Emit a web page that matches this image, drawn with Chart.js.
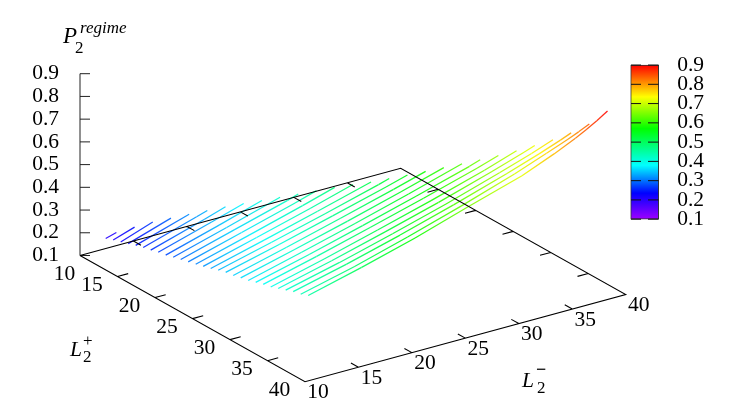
<!DOCTYPE html>
<html>
<head>
<meta charset="utf-8">
<style>
  html, body { margin: 0; padding: 0; background: #fff; }
  canvas { display: block; }
</style>
<script src="https://cdn.jsdelivr.net/npm/chart.js@4/dist/chart.umd.min.js"></script>
</head>
<body>
<canvas id="surface" width="733" height="405"></canvas>
<script>
// tick labels
const lTicks = [10, 15, 20, 25, 30, 35, 40];
const zTicks = [0.1, 0.2, 0.3, 0.4, 0.5, 0.6, 0.7, 0.8, 0.9];

// palette: P value and hue at that value
const paletteP = [0.1, 0.235, 0.38, 0.57, 0.735, 0.9];
const paletteHue = [277, 240, 180, 120, 60, 0];

// one line of the surface per L+, sampled at these L- and at L- = L+
const lPlusRows = [12, 13, 14, 15, 16, 17, 18, 19, 20, 21, 22, 23, 24, 25, 26, 27, 28, 29, 30, 31, 32, 33, 34, 35, 36, 37, 38, 39];
const lMinusGrid = [11, 16, 21, 26, 31, 34, 36, 37, 38];

const pL12 = [.199, .213];
const pL13 = [.211, .242];
const pL14 = [.221, .270];
const pL15 = [.232, .293];
const pL16 = [.243, .316];
const pL17 = [.252, .323, .338];
const pL18 = [.259, .330, .360];
const pL19 = [.268, .337, .380];
const pL20 = [.274, .342, .399];
const pL21 = [.283, .350, .419];
const pL22 = [.292, .358, .424, .439];
const pL23 = [.300, .365, .431, .460];
const pL24 = [.308, .372, .438, .480];
const pL25 = [.317, .380, .444, .498];
const pL26 = [.326, .387, .450, .515];
const pL27 = [.337, .396, .458, .522, .536];
const pL28 = [.346, .405, .467, .530, .557];
const pL29 = [.351, .411, .474, .538, .579];
const pL30 = [.359, .419, .481, .546, .601];
const pL31 = [.366, .426, .489, .555, .624];
const pL32 = [.376, .435, .498, .563, .631, .647];
const pL33 = [.386, .445, .508, .573, .641, .672];
const pL34 = [.393, .452, .516, .581, .651, .698];
const pL35 = [.405, .463, .526, .592, .664, .710, .727];
const pL36 = [.416, .473, .536, .603, .677, .723, .758];
const pL37 = [.428, .485, .549, .618, .692, .740, .775, .794];
const pL38 = [.435, .492, .559, .631, .708, .761, .797, .817, .839];
const pL39 = [.448, .508, .573, .648, .719, .777, .820, .845, .872, .902];
const surfaceRows = [pL12, pL13, pL14, pL15, pL16, pL17, pL18, pL19, pL20, pL21, pL22, pL23, pL24, pL25, pL26, pL27, pL28, pL29, pL30, pL31, pL32, pL33, pL34, pL35, pL36, pL37, pL38, pL39];

const gap = { x: NaN, y: NaN };

// gnuplot style view: L+, L-, P to position on the flat x/y scales
function project(lp, lm, p) {
  return {
    x: 80 + (lp - 10) * 7.5 + (lm - 10) * 10.69,
    y: 255.5 + (lp - 10) * 4.207 - (lm - 10) * 2.907 - (p - 0.1) * 227.25
  };
}

function paletteColor(p, light) {
  let i = 0;
  while (i < paletteP.length - 2 && p > paletteP[i + 1]) i++;
  const t = (p - paletteP[i]) / (paletteP[i + 1] - paletteP[i]);
  const hue = paletteHue[i] + t * (paletteHue[i + 1] - paletteHue[i]);
  return `hsl(${Math.max(hue, 0)}, 100%, ${light || 50}%)`;
}

// base frame, z axis and all the little ticks
const framePoints = [
  project(10, 10, 0.1), project(40, 10, 0.1), project(40, 40, 0.1), project(10, 40, 0.1), project(10, 10, 0.1), gap
];
lTicks.slice(1, -1).forEach((t) => {
  framePoints.push(project(t, 10, 0.1), project(t, 11, 0.1), gap);
  framePoints.push(project(t, 40, 0.1), project(t, 39, 0.1), gap);
  framePoints.push(project(10, t, 0.1), project(11, t, 0.1), gap);
  framePoints.push(project(40, t, 0.1), project(39, t, 0.1), gap);
});

const zAxisPoints = [project(10, 10, 0.1), project(10, 10, 0.9), gap];
zTicks.forEach((z) => {
  const from = project(10, 10, z);
  zAxisPoints.push(from, { x: from.x + 10, y: from.y }, gap);
});

const cbTickPoints = [];
zTicks.forEach((z) => {
  cbTickPoints.push({ x: 631, y: z }, { x: 641, y: z }, gap);
  cbTickPoints.push({ x: 648, y: z }, { x: 658.5, y: z }, gap);
});

const surfaceDatasets = surfaceRows.map((values, i) => {
  const lp = lPlusRows[i];
  const lms = lMinusGrid.filter((g) => g < lp).concat([lp]);
  const points = values.map((p, j) => ({ ...project(lp, lms[j], p), p: p }));
  return {
    label: "L+ = " + lp,
    data: points,
    showLine: true,
    pointRadius: 0,
    borderWidth: 1.25,
    borderColor: paletteColor(values[0], 55),
    xAxisID: "x",
    yAxisID: "y",
    order: 5,
    segment: {
      borderColor: (ctx) => {
        const row = ctx.chart.data.datasets[ctx.datasetIndex].data;
        const from = paletteColor(row[ctx.p0DataIndex].p, 55);
        if (![ctx.p0.x, ctx.p0.y, ctx.p1.x, ctx.p1.y].every(Number.isFinite)) return from;
        const g = ctx.chart.ctx.createLinearGradient(ctx.p0.x, ctx.p0.y, ctx.p1.x, ctx.p1.y);
        g.addColorStop(0, from);
        g.addColorStop(1, paletteColor(row[ctx.p1DataIndex].p, 55));
        return g;
      },
      // gradients all stringify the same, this keeps the segments apart
      borderDashOffset: (ctx) => ctx.p0DataIndex
    }
  };
});

// these two axes only put labels down, they must not take room from the chart area
function noRoom(scale) {
  scale.width = 0;
  scale.paddingTop = 0;
  scale.paddingBottom = 0;
  scale.paddingLeft = 0;
  scale.paddingRight = 0;
}

// text that has no axis of its own in Chart.js
const labelsPlugin = {
  id: "labels3d",
  afterDraw(chart) {
    const c = chart.ctx;
    const xs = chart.scales.x;
    const ys = chart.scales.y;
    const put = (text, x, y, font, align) => {
      c.font = font;
      c.textAlign = align || "center";
      c.textBaseline = "alphabetic";
      c.fillStyle = "#000";
      c.fillText(text, x, y);
    };
    const serif = '21.5px "Liberation Serif"';
    c.save();
    lTicks.forEach((t) => {
      const a = project(t, 10, 0.1);
      if (t === 10) {
        put("10", xs.getPixelForValue(a.x) - 15.5, ys.getPixelForValue(a.y) + 24.5, serif);
      } else {
        put(String(t), xs.getPixelForValue(a.x) - 25.5, ys.getPixelForValue(a.y) + 14.5, serif);
      }
      const b = project(40, t, 0.1);
      put(String(t), xs.getPixelForValue(b.x) + 13, ys.getPixelForValue(b.y) + 16.5, serif);
    });

    put("P", 63, 43, 'italic 23px "Liberation Serif"', "left");
    put("2", 75, 52.5, '17px "Liberation Serif"', "left");
    put("regime", 80, 33, 'italic 17px "Liberation Serif"', "left");

    put("L", 70, 356, 'italic 21.5px "Liberation Serif"', "left");
    put("+", 83, 346, '17px "Liberation Serif"', "left");
    put("2", 83, 361.5, '17px "Liberation Serif"', "left");

    put("L", 522, 387, 'italic 21.5px "Liberation Serif"', "left");
    put("\u2212", 536, 375, 'bold 18px "Liberation Serif"', "left");
    put("2", 537, 392.5, '17px "Liberation Serif"', "left");
    c.restore();
  }
};

new Chart(document.getElementById("surface"), {
  type: "scatter",
  data: {
    datasets: [
      {
        label: "base",
        data: framePoints,
        showLine: true,
        spanGaps: false,
        pointRadius: 0,
        borderWidth: 1.1,
        borderColor: "#000",
        xAxisID: "x",
        yAxisID: "y",
        order: 1
      },
      {
        label: "z axis",
        data: zAxisPoints,
        showLine: true,
        spanGaps: false,
        pointRadius: 0,
        borderWidth: 1,
        borderColor: "#222",
        xAxisID: "x",
        yAxisID: "y",
        order: 1
      },
      {
        label: "colorbar ticks",
        data: cbTickPoints,
        showLine: true,
        spanGaps: false,
        pointRadius: 0,
        borderWidth: 1,
        borderColor: "#111",
        xAxisID: "x",
        yAxisID: "cb",
        order: 1
      },
      {
        type: "bar",
        label: "colorbar",
        data: [{ x: 644.7, y: [zTicks[0], zTicks[zTicks.length - 1]] }],
        barThickness: 28,
        borderWidth: 1,
        borderColor: "#333",
        borderSkipped: false,
        xAxisID: "x",
        yAxisID: "cb",
        order: 3,
        backgroundColor: (ctx) => {
          const cb = ctx.chart.scales.cb;
          const y0 = cb ? cb.getPixelForValue(0.1) : NaN;
          const y1 = cb ? cb.getPixelForValue(0.9) : NaN;
          if (!Number.isFinite(y0) || !Number.isFinite(y1)) return "#000";
          const g = ctx.chart.ctx.createLinearGradient(0, y0, 0, y1);
          paletteP.forEach((p) => g.addColorStop((p - 0.1) / 0.8, paletteColor(p)));
          return g;
        }
      },
      ...surfaceDatasets
    ]
  },
  plugins: [labelsPlugin],
  options: {
    responsive: false,
    animation: false,
    layout: { padding: 0 },
    plugins: { legend: { display: false }, tooltip: { enabled: false } },
    scales: {
      // offset: the bar dataset would otherwise turn it on and squeeze the x scale
      x: { type: "linear", min: 0, max: 733, display: false, offset: false },
      y: { type: "linear", min: 0, max: 405, reverse: true, display: false },
      z: {
        type: "linear",
        axis: "y",
        min: 0.1 - 149.5 / 227.25,
        max: 0.9 + 73.7 / 227.25,
        position: { x: 59 },
        grid: { display: false, drawTicks: false },
        border: { display: false },
        afterFit: noRoom,
        afterBuildTicks: (axis) => { axis.ticks = zTicks.map((v) => ({ value: v })); },
        ticks: {
          autoSkip: false,
          padding: 0,
          color: "#000",
          font: { family: "Liberation Serif", size: 21.5 },
          callback: (v) => v.toFixed(1)
        }
      },
      cb: {
        type: "linear",
        axis: "y",
        min: 0.1 - 185.7 / 192.6,
        max: 0.9 + 65 / 192.6,
        position: { x: 704 },
        grid: { display: false, drawTicks: false },
        border: { display: false },
        afterFit: noRoom,
        afterBuildTicks: (axis) => { axis.ticks = zTicks.map((v) => ({ value: v })); },
        ticks: {
          autoSkip: false,
          padding: 0,
          color: "#000",
          font: { family: "Liberation Serif", size: 21.5 },
          callback: (v) => v.toFixed(1)
        }
      }
    }
  }
});
</script>
</body>
</html>
